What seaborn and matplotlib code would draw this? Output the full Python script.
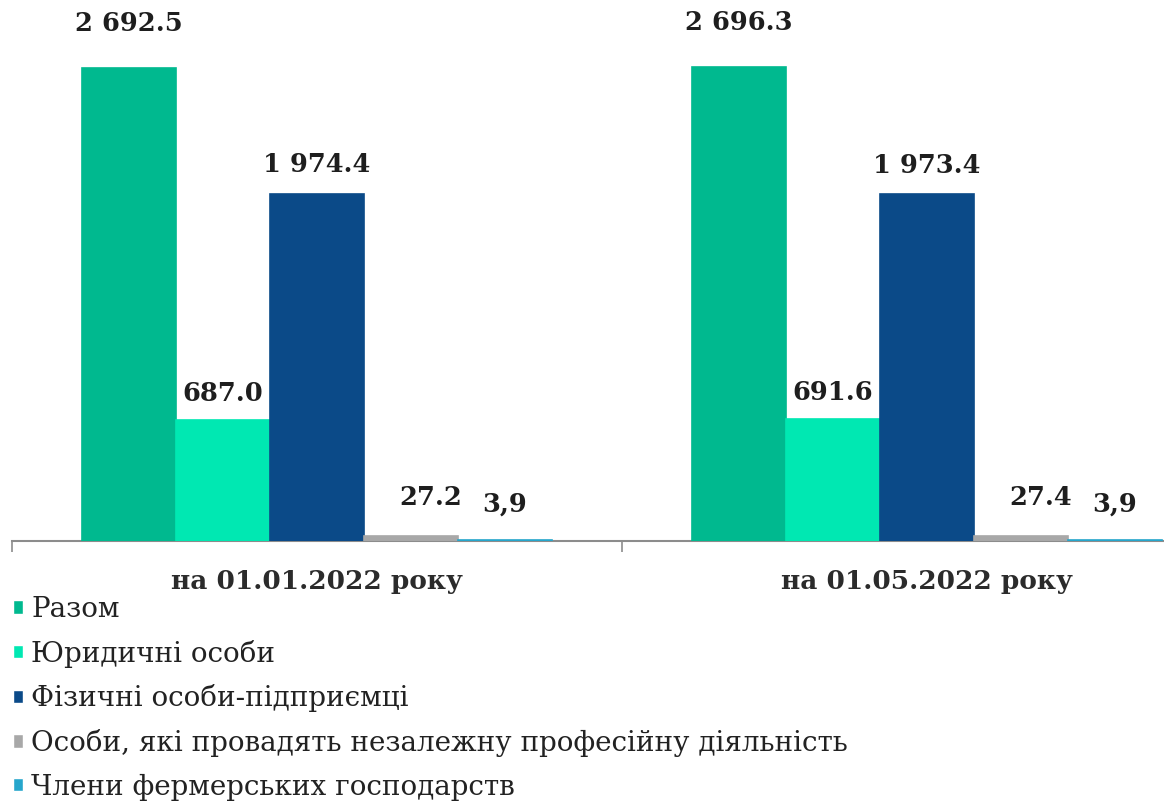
import matplotlib
matplotlib.use("Agg")
import matplotlib.pyplot as plt
import pandas as pd
import seaborn as sns

periods = ["на 01.01.2022 року", "на 01.05.2022 року"]
series = ["Разом", "Юридичні особи", "Фізичні особи-підприємці",
          "Особи, які провадять незалежну професійну діяльність",
          "Члени фермерських господарств"]
values_jan = [2692.5, 687.0, 1974.4, 27.2, 3.9]
values_may = [2696.3, 691.6, 1973.4, 27.4, 3.9]
labels_jan = ["2 692.5", "687.0", "1 974.4", "27.2", "3,9"]
labels_may = ["2 696.3", "691.6", "1 973.4", "27.4", "3,9"]

colors = ["#00B98F", "#00E8B2", "#0B4A88", "#A8A8A8", "#26A6CC"]

rows = []
for s, a, b in zip(series, values_jan, values_may):
    rows.append({"period": periods[0], "series": s, "value": a})
    rows.append({"period": periods[1], "series": s, "value": b})
df = pd.DataFrame(rows)

sns.set_style("white")
serif = ["DejaVu Serif", "Liberation Serif"]
plt.rcParams["font.family"] = serif

fig = plt.figure(figsize=(11.64, 8.09), dpi=100)
ax = fig.add_axes([12 / 1164, 1 - 541 / 809, 1220 / 1164, 541 / 809])

sns.barplot(data=df, x="period", y="value", hue="series", order=periods,
            hue_order=series, palette=colors, width=0.77, gap=0,
            saturation=1, ax=ax)

# no white seams between bars; thin bars still show as a line
for cont in ax.containers:
    for bar in cont:
        bar.set_edgecolor(bar.get_facecolor())
        bar.set_linewidth(1.2)
        bar.set_zorder(3)

# label offsets (points) per series: dx, dy above bar top
offsets = [(0, 32), (0, 19.5), (0, 21), (14, 28), (0, 26)]
for cont, lj, lm, (dx, dy) in zip(ax.containers, labels_jan, labels_may, offsets):
    for bar, txt in zip(cont, [lj, lm]):
        ax.annotate(txt, (bar.get_x() + bar.get_width() / 2, bar.get_height()),
                    xytext=(dx, dy), textcoords="offset points",
                    ha="center", va="center", fontsize=18.5,
                    fontweight="bold", color="#1e1e1e", family=serif)

ax.set_xlim(-0.5, 1.5)
ax.set_ylim(0, 3079)
ax.set_xlabel("")
ax.set_ylabel("")
ax.set_yticks([])
for side in ["top", "right", "left"]:
    ax.spines[side].set_visible(False)
ax.spines["bottom"].set_color("#8c8c8c")
ax.spines["bottom"].set_linewidth(1.5)
ax.spines["bottom"].set_zorder(1)

ax.tick_params(axis="x", which="major", length=0, pad=20)
ax.set_xticks([-0.5, 0.5, 1.5], minor=True)
ax.tick_params(axis="x", which="minor", length=8, color="#8c8c8c", width=1.2,
               bottom=True)
for t in ax.get_xticklabels():
    t.set_fontsize(19)
    t.set_fontweight("bold")
    t.set_color("#2b2b2b")
    t.set_family(serif)

handles, labs = ax.get_legend_handles_labels()
ax.get_legend().remove()
fig.legend(handles, labs, loc="upper left", bbox_to_anchor=(0.011, 1 - 596 / 809),
           frameon=False, prop={"family": serif, "size": 20},
           handlelength=0.36, handleheight=0.36,
           handletextpad=0.3, labelspacing=0.6, borderaxespad=0,
           borderpad=0, labelcolor="#222222")

fig.savefig("out.png", dpi=100)
